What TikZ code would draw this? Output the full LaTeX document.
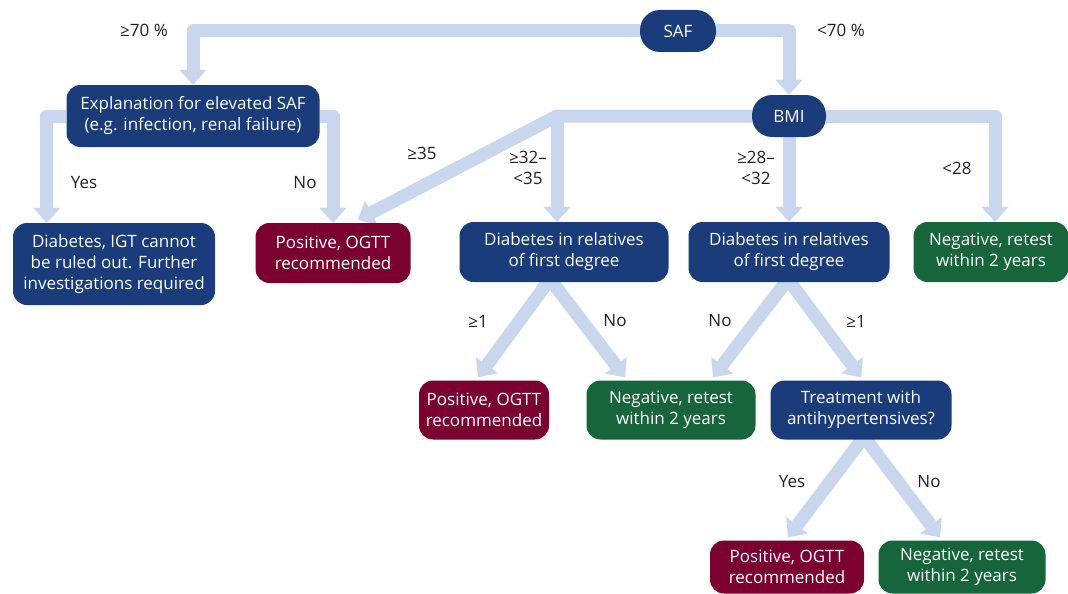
\documentclass[tikz,border=0pt]{standalone}
\usepackage{fontspec}
\setmainfont{Open Sans}
\usetikzlibrary{arrows.meta,backgrounds,calc}
\definecolor{dblue}{HTML}{1B3C7B}
\definecolor{dred}{HTML}{7A0030}
\definecolor{dgreen}{HTML}{17653A}
\definecolor{flowc}{HTML}{C8D6EE}
\definecolor{labc}{HTML}{231F20}
\begin{document}
\begin{tikzpicture}[x=1pt,y=-1pt,
 box/.style={rounded corners=14pt, text=white, align=center, inner sep=0pt, font=\fontsize{17}{21}\selectfont},
 bluebox/.style={box, fill=dblue},
 redbox/.style={box, fill=dred},
 greenbox/.style={box, fill=dgreen},
 pill/.style={bluebox, rounded corners=20pt, minimum height=42pt},
 lab/.style={text=labc, align=center, inner sep=0pt, font=\fontsize{17}{21}\selectfont},
 flow/.style={draw=flowc, line width=13pt, line join=round, -{Triangle[width=27pt,length=15pt,line width=0.1pt]}}
]
\useasboundingbox (0,0) rectangle (1068,594);
% nodes
\node[pill, minimum width=76pt] (saf) at (678,31) {SAF};
\node[bluebox, minimum width=253pt, minimum height=62pt] (expl) at (193,116) {Explanation for elevated SAF\\(e.g. infection, renal failure)};
\node[pill, minimum width=74pt] (bmi) at (789,116) {BMI};
\node[bluebox, minimum width=202pt, minimum height=82pt] (igt) at (114,264) {Diabetes, IGT cannot\\be ruled out. Further\\investigations required};
\node[redbox, minimum width=155pt, minimum height=60pt] (pos1) at (333,253) {Positive, OGTT\\recommended};
\node[bluebox, minimum width=209pt, minimum height=60pt] (rel1) at (564,252) {Diabetes in relatives\\of first degree};
\node[bluebox, minimum width=201pt, minimum height=60pt] (rel2) at (789,252) {Diabetes in relatives\\of first degree};
\node[greenbox, minimum width=155pt, minimum height=60pt] (neg1) at (991,252) {Negative, retest\\within 2 years};
\node[redbox, minimum width=130pt, minimum height=59pt] (pos2) at (484,410) {Positive, OGTT\\recommended};
\node[greenbox, minimum width=169pt, minimum height=59pt] (neg2) at (671,410) {Negative, retest\\within 2 years};
\node[bluebox, minimum width=181pt, minimum height=59pt] (treat) at (861,410) {Treatment with\\antihypertensives?};
\node[redbox, minimum width=154pt, minimum height=53pt] (pos3) at (787,567) {Positive, OGTT\\recommended};
\node[greenbox, minimum width=167pt, minimum height=53pt] (neg3) at (962,567) {Negative, retest\\within 2 years};
% labels
\node[lab] (l1) at (144,30) {≥70 \%};
\node[lab] (l2) at (841,30) {<70 \%};
\node[lab] (l3) at (84,183) {Yes};
\node[lab] (l4) at (305,183) {No};
\node[lab] (l5) at (422,153) {≥35};
\node[lab] (l6) at (528,168) {≥32–\\<35};
\node[lab] (l7) at (756,168) {≥28–\\<32};
\node[lab] (l8) at (957,168) {<28};
\node[lab] (l9) at (478,321) {≥1};
\node[lab] (l10) at (615,321) {No};
\node[lab] (l11) at (720,321) {No};
\node[lab] (l12) at (856,321) {≥1};
\node[lab] (l13) at (792,482) {Yes};
\node[lab] (l14) at (929,482) {No};
% connectors
\begin{scope}[on background layer]
\draw[flow] (saf.west) -| (expl.north);
\draw[flow] (saf.east) -| (bmi.north);
\draw[flow] (expl.west) -| ($(igt.north west)+(34,0)$);
\draw[flow] (expl.east) -| (pos1.north);
\coordinate (j) at (557,116);
\draw[flow] (bmi.west) -- (j) -- ($(pos1.north)+(25,-3)$);
\draw[flow] (j) -- (j |- rel1.north);
\draw[flow] (bmi.south) -- (rel2.north);
\draw[flow] (bmi.east) -| ($(neg1.north)+(4,0)$);
\coordinate (a1) at ($(rel1.south)+(-14,-3)$);
\draw[flow] (a1) -- ($(pos2.north)+(-6,-3)$);
\draw[flow] (a1) -- ($(neg2.north)+(-46,-3)$);
\coordinate (a2) at ($(rel2.south)+(-1,-3)$);
\draw[flow] (a2) -- ($(neg2.north)+(42,-3)$);
\draw[flow] (a2) -- ($(treat.north)+(0,-3)$);
\coordinate (a3) at ($(treat.south)+(3,-3)$);
\draw[flow] (a3) -- ($(pos3.north)+(1,-3)$);
\draw[flow] (a3) -- ($(neg3.north)+(-22,-3)$);
\end{scope}
\end{tikzpicture}
\end{document}
